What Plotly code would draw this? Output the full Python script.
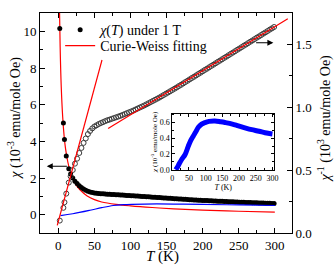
import plotly.graph_objects as go

# ---------------- data ----------------
# temperatures (K) of the measured points
T_low = [2, 7, 8.5, 11, 14.5]
T_dense = [17, 20, 23, 26, 29, 32, 35, 38, 41, 44, 47, 50, 53, 56, 59, 62, 65, 68, 71, 74,
           77, 80, 83, 86, 89, 92, 95, 98, 101, 104, 107, 110, 113, 116, 119, 122, 125, 128,
           131, 134, 137, 140, 143, 146, 149, 152, 155, 158, 161, 164, 167, 170, 173, 176,
           179, 182, 185, 188, 191, 194, 197, 200, 203, 206, 209, 212, 215, 218, 221, 224,
           227, 230, 233, 236, 239, 242, 245, 248, 251, 254, 257, 260, 263, 266, 269, 272,
           275, 278, 281, 284, 287, 290, 293, 296, 299]
# inverse susceptibility chi^-1 (10^3 emu/mole Oe)
inv_chi_low = [0.0985, 0.2, 0.244, 0.3125, 0.4]
inv_chi_dense = [0.45, 0.50, 0.55, 0.59, 0.635, 0.675, 0.715, 0.75, 0.785, 0.81, 0.83, 0.845,
                 0.855, 0.865, 0.873, 0.88, 0.888, 0.895, 0.90, 0.906, 0.912, 0.918, 0.924,
                 0.93, 0.937, 0.944, 0.951, 0.958, 0.965, 0.972, 0.98, 0.988, 0.996, 1.004,
                 1.012, 1.021, 1.03, 1.039, 1.048, 1.057, 1.066, 1.075, 1.085, 1.095, 1.105,
                 1.115, 1.125, 1.135, 1.145, 1.155, 1.166, 1.176, 1.187, 1.198, 1.208, 1.219,
                 1.230, 1.240, 1.251, 1.262, 1.272, 1.283, 1.294, 1.304, 1.315, 1.326, 1.336,
                 1.347, 1.358, 1.368, 1.379, 1.390, 1.400, 1.411, 1.422, 1.432, 1.443, 1.454,
                 1.464, 1.475, 1.486, 1.496, 1.507, 1.518, 1.528, 1.539, 1.550, 1.560, 1.571,
                 1.582, 1.592, 1.603, 1.614, 1.624, 1.635]
T_meas = T_low + T_dense
inv_chi = inv_chi_low + inv_chi_dense
chi = [1.0 / v for v in inv_chi]          # chi (10^-3 emu/mole Oe)

# Curie-Weiss fit drawn on chi (left axis)
T_cw = [1.5, 2.5, 4, 6, 8, 10, 13, 16, 20, 25, 30, 40, 50, 60, 80, 100, 130, 160, 200, 250, 300]
chi_cw = [11.5, 9.2, 7.0, 5.35, 4.3, 3.6, 2.9, 2.42, 1.98, 1.6, 1.36, 1.02, 0.82, 0.69, 0.56,
          0.48, 0.39, 0.32, 0.245, 0.185, 0.135]
# linear Curie-Weiss fits drawn on chi^-1 (right axis)
T_fit_lo = [-1.5, 60.5]
inv_fit_lo = [0.06, 1.373]
T_fit_hi = [69, 318]
inv_fit_hi = [0.83, 1.70]
# difference chi - chi_CW (blue)
T_diff = [3, 20, 44, 60, 76, 90, 120, 160, 200, 250, 300]
chi_diff = [-0.05, 0.05, 0.24, 0.38, 0.50, 0.55, 0.58, 0.58, 0.56, 0.53, 0.50]
# inset curve
T_inset = [10, 15, 20, 28, 38, 48, 55, 63, 70, 78, 88, 98, 110, 128, 145, 158, 180, 198, 220,
           238, 260, 278, 300]
chi_inset = [0.0, 0.03, 0.07, 0.13, 0.19, 0.30, 0.37, 0.43, 0.48, 0.54, 0.58, 0.60, 0.615,
             0.62, 0.61, 0.60, 0.58, 0.557, 0.53, 0.51, 0.49, 0.47, 0.455]

# ---------------- figure ----------------
FONT = "Liberation Serif"
fig = go.Figure()

fig.add_trace(go.Scatter(x=T_meas, y=inv_chi, yaxis="y2", mode="markers", showlegend=False,
                         marker=dict(symbol="circle-open", size=5, color="#3a3a3a",
                                     line=dict(width=1, color="#3a3a3a"))))
fig.add_trace(go.Scatter(x=T_fit_lo, y=inv_fit_lo, yaxis="y2", mode="lines", showlegend=False,
                         line=dict(color="red", width=1.2)))
fig.add_trace(go.Scatter(x=T_fit_hi, y=inv_fit_hi, yaxis="y2", mode="lines", showlegend=False,
                         line=dict(color="red", width=1.2)))
fig.add_trace(go.Scatter(x=T_cw, y=chi_cw, mode="lines", name="Curie-Weiss fitting",
                         legend="legend2", line=dict(color="red", width=1.2, shape="spline")))
fig.add_trace(go.Scatter(x=T_meas, y=chi, mode="markers",
                         name="<i>χ</i>(<i>T</i>) under 1 T", legend="legend",
                         marker=dict(symbol="circle", size=5, color="black")))
fig.add_trace(go.Scatter(x=T_diff, y=chi_diff, mode="lines", showlegend=False,
                         line=dict(color="blue", width=1.2, shape="spline")))
fig.add_trace(go.Scatter(x=T_inset, y=chi_inset, xaxis="x3", yaxis="y3", mode="lines",
                         showlegend=False,
                         line=dict(color="blue", width=5, shape="spline")))

axis_common = dict(showgrid=False, zeroline=False, showline=True, linecolor="black",
                   linewidth=1, ticks="inside", tickcolor="black", tickwidth=1,
                   automargin=False)
tf13 = dict(family=FONT, size=13, color="black")
tf8 = dict(family=FONT, size=8, color="black")

fig.update_layout(
    width=335, height=275,
    margin=dict(l=40, r=43, t=13, b=42, autoexpand=False),
    paper_bgcolor="white", plot_bgcolor="white",
    font=dict(family=FONT, size=13, color="black"),
    xaxis=dict(**axis_common, range=[-25.4, 323.8], tick0=0, dtick=50, ticklen=5,
               mirror="ticks",
               minor=dict(dtick=25, ticklen=3, ticks="inside", tickcolor="black"),
               tickfont=tf13),
    yaxis=dict(**axis_common, range=[-1, 11], tick0=0, dtick=2, ticklen=5,
               minor=dict(dtick=1, ticklen=3, ticks="inside", tickcolor="black"),
               tickfont=tf13),
    yaxis2=dict(**axis_common, overlaying="y", side="right", anchor="x",
                range=[0, 1.746], tick0=0, dtick=0.5, tickformat=".1f", ticklen=5,
                minor=dict(dtick=0.25, ticklen=3, ticks="inside", tickcolor="black"),
                tickfont=tf13),
    xaxis3=dict(**axis_common, domain=[0.525, 0.929], anchor="y3", range=[0, 305],
                tick0=0, dtick=50, ticklen=3, mirror="ticks",
                minor=dict(dtick=25, ticklen=2, ticks="inside", tickcolor="black"),
                tickfont=tf8,
                title=dict(text="<i>T</i> (K)", font=dict(family=FONT, size=8), standoff=1)),
    yaxis3=dict(**axis_common, domain=[0.286, 0.543], anchor="x3", range=[-0.005, 0.715],
                tick0=0, dtick=0.2, tickformat=".1f", ticklen=3, mirror="ticks",
                minor=dict(dtick=0.1, ticklen=2, ticks="inside", tickcolor="black"),
                tickfont=tf8,
                title=dict(text="<i>χ</i> (10<sup>-3</sup> emu/mole Oe)",
                           font=dict(family=FONT, size=7), standoff=1)),
    legend=dict(x=0.08, y=0.995, xanchor="left", yanchor="top", bgcolor="rgba(0,0,0,0)",
                font=dict(family=FONT, size=14)),
    legend2=dict(x=0.08, y=0.923, xanchor="left", yanchor="top", bgcolor="rgba(0,0,0,0)",
                 font=dict(family=FONT, size=14)),
    showlegend=True,
)

# axis titles as annotations
fig.add_annotation(text="<i>χ</i> (10<sup>-3</sup> emu/mole Oe)", xref="paper", yref="paper",
                   x=-0.099, y=0.52, textangle=-90, showarrow=False,
                   font=dict(family=FONT, size=14), xanchor="center", yanchor="middle")
fig.add_annotation(text="<i>χ</i><sup>-1</sup> (10<sup>3</sup> emu/mole Oe)", xref="paper",
                   yref="paper", x=1.131, y=0.52, textangle=-90, showarrow=False,
                   font=dict(family=FONT, size=14), xanchor="center", yanchor="middle")
fig.add_annotation(text="<i>T</i> (K)", xref="paper", yref="paper", x=0.488, y=-0.108,
                   showarrow=False, font=dict(family=FONT, size=15),
                   xanchor="center", yanchor="middle")

fig.add_annotation(x=-16, y=2.64, ax=14, ay=2.64, xref="x", yref="y", axref="x", ayref="y",
                   text="", showarrow=True, arrowhead=2, arrowsize=1, arrowwidth=1.2,
                   arrowcolor="black")
fig.add_annotation(x=298, y=1.51, ax=272, ay=1.51, xref="x", yref="y2", axref="x", ayref="y2",
                   text="", showarrow=True, arrowhead=2, arrowsize=1, arrowwidth=1.2,
                   arrowcolor="black")

fig.write_html("out.html", config={"displayModeBar": False},
               post_script="document.body.style.margin='0';document.body.style.overflow='hidden';")
